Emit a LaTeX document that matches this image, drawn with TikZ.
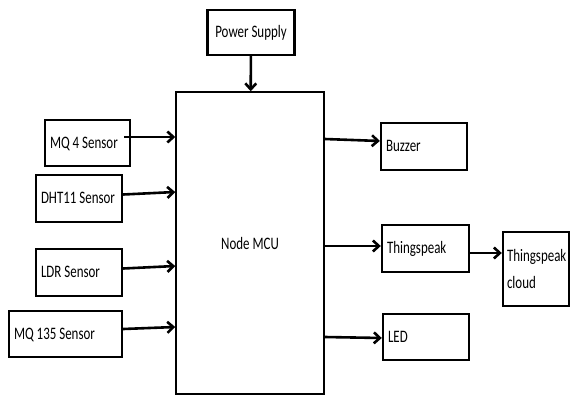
\documentclass[tikz,border=0pt]{standalone}
\usepackage{fontspec}
\usepackage{tikz}
\usetikzlibrary{arrows.meta,positioning}
\newfontfamily\boxfont[FakeStretch=0.74]{Carlito}
\tikzset{
  blockbox/.style={
    rectangle, draw=black, line width=2.4pt, inner sep=5pt,
    font=\boxfont\fontsize{17.5}{27}\selectfont, align=flush left
  },
  flowline/.style={-{Straight Barb[length=6pt,width=11pt]}, line width=2.6pt}
}
\begin{document}
\begin{tikzpicture}[x=1pt,y=-1pt]
\useasboundingbox (0,0) rectangle (570,396);
% central controller
\node[draw=black, line width=1.5pt, minimum width=148pt, minimum height=302pt,
  font=\boxfont\fontsize{17.5}{20}\selectfont] (mcu) at (250,243) {Node MCU};
\node[blockbox, align=center, minimum width=87pt, minimum height=45pt] (power) at (251,32.5) {Power Supply};

% sensors
\node[blockbox, text width=75pt, minimum height=46pt] (mq4) at (87.5,143) {\strut MQ 4 Sensor};
\node[blockbox, text width=76pt, minimum height=47pt] (dht) at (79,198.5) {\strut DHT11 Sensor};
\node[blockbox, text width=76pt, minimum height=47pt] (ldr) at (79,272.5) {\strut LDR Sensor};
\node[blockbox, text width=103pt, minimum height=46pt] (mq135) at (65.5,334) {\strut MQ 135 Sensor};

% outputs
\node[blockbox, text width=76pt, minimum height=47pt] (buzzer) at (424,146.5) {\strut Buzzer};
\node[blockbox, text width=77pt, minimum height=47pt] (thing) at (425.5,248.5) {\strut Thingspeak};
\node[blockbox, inner sep=4pt, text width=58pt, minimum height=74pt] (cloud) at (536,269) {Thingspeak\\cloud};
\node[blockbox, text width=76pt, minimum height=46pt] (led) at (426,337) {\strut LED};

\draw[flowline] (power) -- (mcu);
\draw[flowline] ([xshift=-7pt,yshift=6pt]mq4.east) -- (mcu.west |- 0,137);
\draw[flowline] ([yshift=4pt]dht.east) -- (mcu.west |- 0,192);
\draw[flowline] ([yshift=4pt]ldr.east) -- (mcu.west |- 0,266);
\draw[flowline] ([yshift=5pt]mq135.east) -- (mcu.west |- 0,327);
\draw[flowline] (mcu.east |- 0,139) -- (buzzer.west |- 0,141);
\draw[flowline] (mcu.east |- 0,246) -- (thing.west |- 0,246);
\draw[flowline] (thing.east |- 0,253) -- (cloud.west |- 0,253);
\draw[flowline] (mcu.east |- 0,337) -- (led.west |- 0,338);
\end{tikzpicture}
\end{document}
